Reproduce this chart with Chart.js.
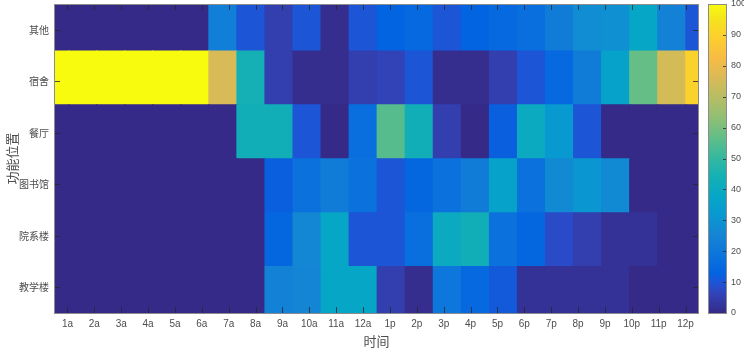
<!DOCTYPE html>
<html>
<head>
<meta charset="utf-8">
<script src="https://cdn.jsdelivr.net/npm/chart.js@4.4.1/dist/chart.umd.min.js"></script>
<style>
  html, body { margin: 0; padding: 0; background: #fff; }
</style>
</head>
<body>
<canvas id="myChart" width="744" height="350"></canvas>
<script>
// categories
const hours = ['1a', '2a', '3a', '4a', '5a', '6a', '7a', '8a', '9a', '10a', '11a', '12a',
               '1p', '2p', '3p', '4p', '5p', '6p', '7p', '8p', '9p', '10p', '11p', '12p'];
const places = ['其他', '宿舍', '餐厅', '图书馆', '院系楼', '教学楼'];

// values per row (0-100)
const other    = [0, 0, 0, 0, 0, 0, 23, 10, 5, 10, 1, 10, 13, 15, 10, 13, 15, 17, 22, 28, 29, 38, 24, 10];
const dorm     = [100, 100, 100, 100, 100, 100, 76, 44, 5, 1, 1, 5, 6, 10, 1, 1, 5, 10, 15, 22, 36, 57, 75, 90];
const canteen  = [0, 0, 0, 0, 0, 0, 0, 43, 43, 10, 0, 17, 55, 43, 5, 0, 12, 40, 32, 10, 0, 0, 0, 0];
const library  = [0, 0, 0, 0, 0, 0, 0, 0, 12, 18, 22, 18, 10, 14, 18, 22, 36, 18, 27, 31, 27, 0, 0, 0];
const dept     = [0, 0, 0, 0, 0, 0, 0, 0, 14, 26, 38, 10, 10, 17, 40, 43, 18, 14, 8, 5, 2, 2, 0, 0];
const teaching = [0, 0, 0, 0, 0, 0, 0, 0, 24, 25, 38, 38, 5, 1, 20, 15, 11, 2, 2, 2, 2, 0, 0, 0];
const rows = [other, dorm, canteen, library, dept, teaching];

// colorbar ticks
const cbTicks = [0, 10, 20, 30, 40, 50, 60, 70, 80, 90, 100];

// parula colormap stops
const parula = [
  [0.2081, 0.1663, 0.5292], [0.1959, 0.2645, 0.7279], [0.1253, 0.3242, 0.8303],
  [0.0117, 0.3875, 0.8820], [0.0498, 0.4586, 0.8641], [0.0793, 0.5200, 0.8312],
  [0.0343, 0.5966, 0.8199], [0.0228, 0.6535, 0.7768], [0.0843, 0.6928, 0.7062],
  [0.2178, 0.7250, 0.6193], [0.3953, 0.7459, 0.5244], [0.5709, 0.7485, 0.4494],
  [0.7184, 0.7411, 0.3905], [0.8507, 0.7299, 0.3360], [0.9739, 0.7314, 0.2666],
  [0.9880, 0.8066, 0.1794], [0.9589, 0.8949, 0.1132], [0.9763, 0.9831, 0.0538]
];
const parulaPos = [0, 4, 6, 8, 12, 16, 20, 24, 28, 32, 36, 40, 44, 48, 52, 56, 60, 63].map(i => i / 63);

function colorAt(t) {
  t = Math.max(0, Math.min(1, t));
  let i = 0;
  while (i < parulaPos.length - 2 && t > parulaPos[i + 1]) i++;
  const f = (t - parulaPos[i]) / (parulaPos[i + 1] - parulaPos[i]);
  const c = parula[i].map((v, k) => Math.round(255 * (v + (parula[i + 1][k] - v) * f)));
  return 'rgb(' + c.join(',') + ')';
}

// image grid as placed in the original axes (slightly larger than one tick step)
const colOrigin = 0, colStep = 1.044;
const rowOrigin = 0.366, rowStep = 1.047;

const cells = [];
const cellColors = [];
rows.forEach((vals, r) => {
  vals.forEach((v, c) => {
    cells.push({ x: [colOrigin + c * colStep, colOrigin + (c + 1) * colStep], y: rowOrigin + (r + 0.5) * rowStep });
    cellColors.push(colorAt(v / 100));
  });
});

const latin = "'Liberation Sans', Arial, sans-serif";
const cjk = "'Noto Sans CJK SC', sans-serif";

const frame = {
  id: 'frame',
  afterDatasetsDraw(chart) {
    const { ctx, chartArea: a, scales } = chart;
    ctx.save();
    // inward tick marks on all four sides
    ctx.strokeStyle = 'rgba(40,40,40,0.8)';
    ctx.lineWidth = 1;
    ctx.beginPath();
    scales.x.ticks.forEach(t => {
      const px = Math.round(scales.x.getPixelForValue(t.value)) + 0.5;
      ctx.moveTo(px, a.bottom); ctx.lineTo(px, a.bottom - 6);
      ctx.moveTo(px, a.top); ctx.lineTo(px, a.top + 6);
    });
    scales.y.ticks.forEach(t => {
      const py = Math.round(scales.y.getPixelForValue(t.value)) + 0.5;
      ctx.moveTo(a.left, py); ctx.lineTo(a.left + 6, py);
      ctx.moveTo(a.right, py); ctx.lineTo(a.right - 6, py);
    });
    ctx.stroke();
    ctx.strokeStyle = '#8c8c8c';
    ctx.strokeRect(a.left + 0.5, a.top + 0.5, a.width - 1, a.height);

    // colorbar
    const cb = scales.cb;
    const top = cb.getPixelForValue(100), bot = cb.getPixelForValue(0);
    const x0 = cb.left + 9, w = 18;
    const g = ctx.createLinearGradient(0, bot, 0, top);
    parulaPos.forEach(p => g.addColorStop(p, colorAt(p)));
    ctx.fillStyle = g;
    ctx.fillRect(x0, top, w, bot - top);
    ctx.strokeStyle = 'rgba(40,40,40,0.8)';
    ctx.beginPath();
    cb.ticks.forEach(t => {
      const py = Math.round(cb.getPixelForValue(t.value)) + 0.5;
      ctx.moveTo(x0 + w, py); ctx.lineTo(x0 + w - 3, py);
    });
    ctx.stroke();
    ctx.strokeStyle = '#8c8c8c';
    ctx.strokeRect(x0 + 0.5, top + 0.5, w, bot - top);
    ctx.restore();
  }
};

Chart.defaults.color = '#4d4d4d';

new Chart(document.getElementById('myChart'), {
  type: 'bar',
  data: {
    datasets: [{
      data: cells,
      backgroundColor: cellColors,
      borderWidth: 0,
      inflateAmount: 0.6,
      barPercentage: 1,
      // one tick step is the narrowest spacing, a row is rowStep of it
      categoryPercentage: rowStep
    }]
  },
  options: {
    indexAxis: 'y',
    responsive: false,
    animation: false,
    devicePixelRatio: 1,
    layout: { padding: { top: 4, left: 0, right: 0, bottom: 0 } },
    plugins: { legend: { display: false }, tooltip: { enabled: false } },
    scales: {
      x: {
        type: 'linear',
        position: 'bottom',
        min: 0.5,
        max: 24.5,
        offset: false,
        afterBuildTicks: s => { s.ticks = hours.map((_, i) => ({ value: i + 1 })); },
        afterFit: s => { s.height = 37; s.paddingLeft = 0; s.paddingRight = 0; },
        grid: { display: false, drawTicks: false },
        border: { display: false },
        ticks: {
          autoSkip: false,
          maxRotation: 0,
          padding: 5,
          font: { family: latin, size: 10 },
          callback: v => hours[Math.round(v) - 1]
        },
        title: {
          display: true,
          text: '时间',
          font: { family: cjk, size: 13 },
          padding: { top: 0, bottom: 1 }
        }
      },
      y: {
        type: 'linear',
        position: 'left',
        min: 0.5,
        max: 6.5,
        reverse: true,
        offset: false,
        afterBuildTicks: s => { s.ticks = places.map((_, i) => ({ value: i + 1 })); },
        afterFit: s => { s.width = 54; s.paddingTop = 0; s.paddingBottom = 0; },
        grid: { display: false, drawTicks: false, offset: false },
        border: { display: false },
        ticks: {
          padding: 5,
          font: { family: cjk, size: 10 },
          callback: v => places[Math.round(v) - 1]
        },
        title: {
          display: true,
          text: '功能位置',
          font: { family: cjk, size: 13 },
          padding: { top: 4, bottom: 0 }
        }
      },
      cb: {
        type: 'linear',
        axis: 'y',
        position: 'right',
        min: 0,
        max: 100,
        offset: false,
        afterBuildTicks: s => { s.ticks = cbTicks.map(v => ({ value: v })); },
        afterFit: s => { s.width = 45; s.paddingTop = 0; s.paddingBottom = 0; },
        grid: { display: false, drawTicks: false, offset: false },
        border: { display: false },
        ticks: {
          padding: 32,
          font: { family: latin, size: 9 }
        }
      }
    }
  },
  plugins: [frame]
});
</script>
</body>
</html>
